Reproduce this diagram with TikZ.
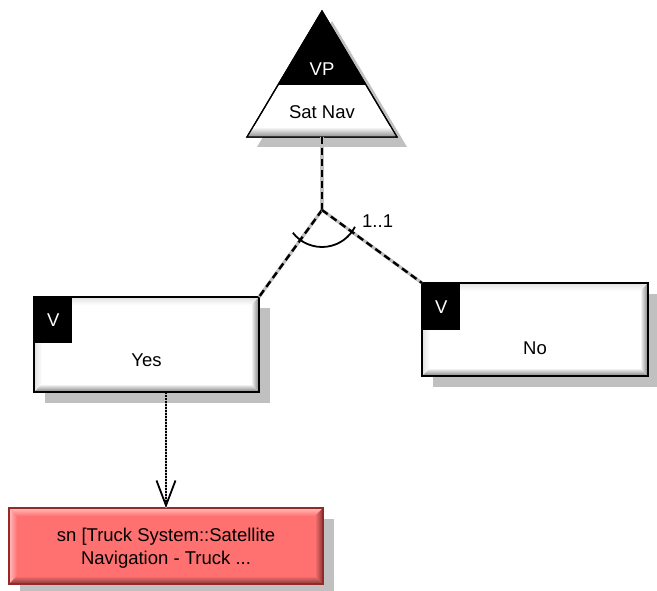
\documentclass[tikz,border=0pt]{standalone}
\usepackage{fontspec}
\setmainfont{Liberation Sans}
\usepackage{tikz}
\usetikzlibrary{arrows.meta, positioning, calc, shadows}

\definecolor{shadowgray}{RGB}{192,192,192}
\definecolor{snred}{RGB}{255,112,112}
\definecolor{snborder}{RGB}{150,40,40}

\begin{document}
\begin{tikzpicture}[x=1pt, y=-1pt,
    % plain labels (names, cardinality)
    lbl/.style={font=\fontsize{18.5}{23}\selectfont, inner sep=0pt},
    % black corner tag of a variant
    vtag/.style={fill=black, text=white, font=\fontsize{18.5}{23}\selectfont,
                 minimum width=38pt, minimum height=46pt, inner sep=0pt,
                 anchor=north west},
    % variant boxes (white, bevelled, grey shadow)
    varbox/.style={rectangle, draw=black, line width=1.2pt, fill=white,
                   inner sep=0pt, outer sep=0pt,
                   drop shadow={shadow xshift=11pt, shadow yshift=-11pt,
                                fill=shadowgray, opacity=1}},
    % artefact box (red)
    snbox/.style={varbox, draw=snborder, fill=snred},
    % variation point triangle
    vpframe/.style={draw=black, line width=1.2pt, line join=miter},
    % variability dependency (dashed on grey)
    vpline/.style={draw=black, line width=2.4pt, dash pattern=on 7pt off 4pt,
                   preaction={draw=black!25, line width=3.2pt, solid}},
    % artefact dependency (dotted on grey, open tip)
    depline/.style={draw=black, line width=1.7pt, dash pattern=on 1.5pt off 1.5pt,
                    -{Straight Barb[length=25pt, width=19pt, line width=1.8pt]},
                    preaction={draw=black!25, line width=2.8pt, solid, -}}
]
\useasboundingbox (0,0) rectangle (657,591);

%-------- VARIATION POINT --------
\coordinate (apex) at (322,11);
\coordinate (bl)   at (247,137);
\coordinate (br)   at (397,137);
\coordinate (vpbase) at ($(bl)!0.5!(br)$);

\filldraw[vpframe, fill=white,
          drop shadow={shadow xshift=10pt, shadow yshift=-10pt,
                       fill=shadowgray, opacity=1}]
    (apex) -- (br) -- (bl) -- cycle;
\begin{scope}
    \clip (apex) -- (br) -- (bl) -- cycle;
    \fill[black] (230,0) rectangle (410,85);
    \shade[top color=white, bottom color=black!45] (230,127) rectangle (410,137);
\end{scope}
\draw[vpframe] (apex) -- (br) -- (bl) -- cycle;

\node[lbl, text=white] (vptag)  at (322,69)  {VP};
\node[lbl]             (vpname) at (322,112) {Sat Nav};

%-------- VARIANTS --------
\node[varbox, minimum width=225pt, minimum height=95pt] (yes) at (146.5,344.5) {};
\node[varbox, minimum width=226pt, minimum height=93pt] (no)  at (535,329.5) {};

%-------- ARTEFACT --------
\node[snbox, minimum width=314pt, minimum height=76pt] (sn) at (166,546) {};

%-------- BEVELS --------
\foreach \n/\tp/\hi/\lo/\bd in {yes/black!12/white/black!50/black,
                                no/black!12/white/black!50/black,
                                sn/snred!45!white/snred/snred!50!black/snborder} {
    \shade[top color=\tp, bottom color=\hi]
        (\n.north west) -- (\n.north east) -- ([shift={(-8pt,-8pt)}]\n.north east)
        -- ([shift={(8pt,-8pt)}]\n.north west) -- cycle;
    \shade[left color=\tp, right color=\hi]
        (\n.north west) -- (\n.south west) -- ([shift={(8pt,8pt)}]\n.south west)
        -- ([shift={(8pt,-8pt)}]\n.north west) -- cycle;
    \shade[top color=\hi, bottom color=\lo]
        (\n.south west) -- (\n.south east) -- ([shift={(-8pt,8pt)}]\n.south east)
        -- ([shift={(8pt,8pt)}]\n.south west) -- cycle;
    \shade[left color=\hi, right color=\lo]
        (\n.south east) -- (\n.north east) -- ([shift={(-8pt,-8pt)}]\n.north east)
        -- ([shift={(-8pt,8pt)}]\n.south east) -- cycle;
    \draw[line width=1.2pt, draw=\bd] (\n.south west) rectangle (\n.north east);
}
\node[lbl, align=center] (sntext) at ([yshift=-2pt]sn.center)
    {sn [Truck System::Satellite\\Navigation - Truck ...};

%-------- TAGS AND NAMES --------
\node[vtag] (yestag) at (yes.north west) {V};
\node[vtag, minimum height=47pt] (notag) at (no.north west) {V};
\node[lbl] (yestext) at ([yshift=-16pt]yes.center) {Yes};
\node[lbl] (notext)  at ([yshift=-19pt]no.center)  {No};

%-------- CONNECTORS --------
\coordinate (branch) at (322,210);
\draw[vpline] (vpbase) -- (branch);
\draw[vpline] (branch) -- (yes.north east);
\draw[vpline] (branch) -- (no.north west);
\draw[line width=1.8pt] ([shift={(218:37pt)}]branch)
    arc[start angle=218, end angle=333, radius=37pt];
\node[lbl, anchor=west] (card) at (362,221) {1..1};

\draw[depline] (sn.north |- yes.south) -- (sn.north);

\end{tikzpicture}
\end{document}
